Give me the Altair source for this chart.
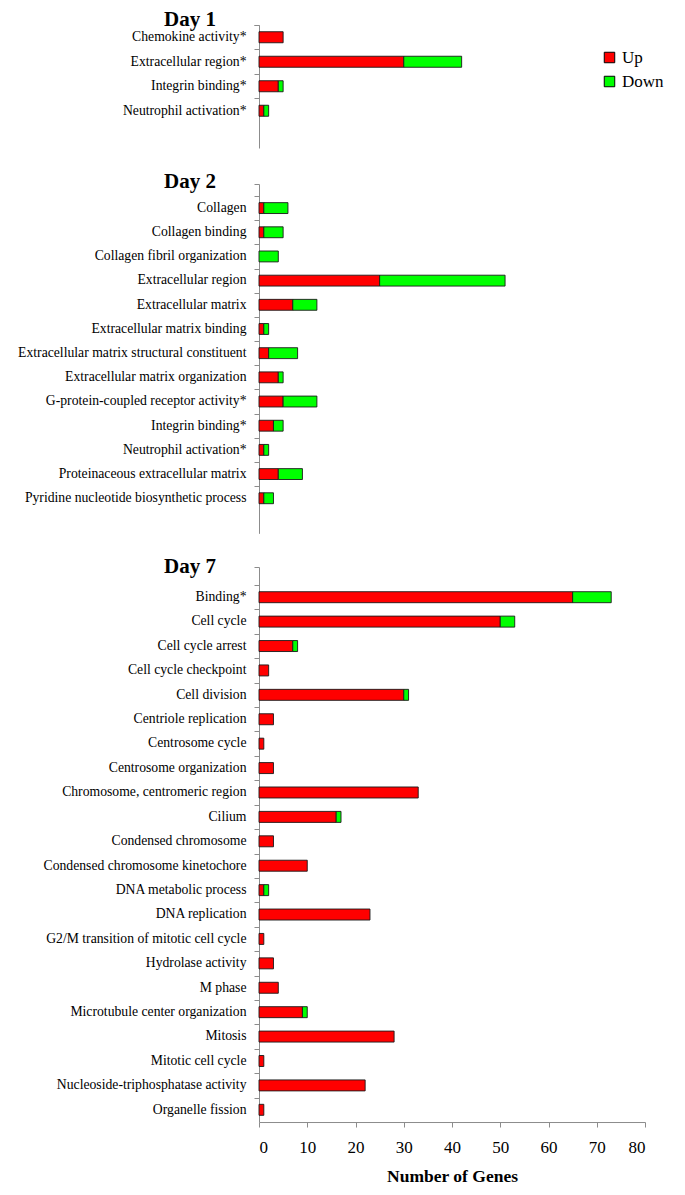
import altair as alt
import pandas as pd

# ---------------- data ----------------
day1_terms = ["Chemokine activity*", "Extracellular region*", "Integrin binding*",
              "Neutrophil activation*"]
day1_up = [5, 30, 4, 1]
day1_down = [0, 12, 1, 1]

day2_terms = ["Collagen", "Collagen binding", "Collagen fibril organization",
              "Extracellular region", "Extracellular matrix", "Extracellular matrix binding",
              "Extracellular matrix structural constituent", "Extracellular matrix organization",
              "G-protein-coupled receptor activity*", "Integrin binding*",
              "Neutrophil activation*", "Proteinaceous extracellular matrix",
              "Pyridine nucleotide biosynthetic process"]
day2_up = [1, 1, 0, 25, 7, 1, 2, 4, 5, 3, 1, 4, 1]
day2_down = [5, 4, 4, 26, 5, 1, 6, 1, 7, 2, 1, 5, 2]

day7_terms = ["Binding*", "Cell cycle", "Cell cycle arrest", "Cell cycle checkpoint",
              "Cell division", "Centriole replication", "Centrosome cycle",
              "Centrosome organization", "Chromosome, centromeric region", "Cilium",
              "Condensed chromosome", "Condensed chromosome kinetochore",
              "DNA metabolic process", "DNA replication",
              "G2/M transition of mitotic cell cycle", "Hydrolase activity", "M phase",
              "Microtubule center organization", "Mitosis", "Mitotic cell cycle",
              "Nucleoside-triphosphatase activity", "Organelle fission"]
day7_up = [65, 50, 7, 2, 30, 3, 1, 3, 33, 16, 3, 10, 1, 23, 1, 3, 4, 9, 28, 1, 22, 1]
day7_down = [8, 3, 1, 0, 1, 0, 0, 0, 0, 1, 0, 0, 1, 0, 0, 0, 0, 1, 0, 0, 0, 0]

directions = ["Up", "Down"]
colors = ["#FF0000", "#00FF00"]

FONT = "Liberation Serif"
W = 386
PI = 0.55
AXIS_GRAY = "#8c8c8c"


def make_df(terms, up, down):
    rows = []
    for t, u, d in zip(terms, up, down):
        if u > 0:
            rows.append({"term": t, "direction": "Up", "ord": 0, "value": u})
        if d > 0:
            rows.append({"term": t, "direction": "Down", "ord": 1, "value": d})
    return pd.DataFrame(rows)


def geometry(n, step, s_t, s_b):
    H = s_t + n * step + s_b
    po = min(1.0, (s_t + s_b + PI * step) / (2 * step))
    align = (s_t + PI * step / 2) / (s_t + s_b + PI * step)
    return H, po, align, step


def panel(terms, up, down, title, step, s_t, s_b, t_off, show_x):
    H, po, al, st = geometry(len(terms), step, s_t, s_b)
    if show_x:
        xaxis = alt.Axis(values=list(range(0, 81, 10)), title="Number of Genes",
                         grid=False, domainColor=AXIS_GRAY, tickColor=AXIS_GRAY,
                         tickSize=5, labelFont=FONT, labelFontSize=17, labelColor="black",
                         labelPadding=12, titleFont=FONT, titleFontSize=17.5,
                         titleFontWeight="bold", titleColor="black", titlePadding=12)
    else:
        xaxis = None
    return alt.Chart(make_df(terms, up, down)).mark_bar(
        stroke="#1a1a1a", strokeWidth=0.9
    ).encode(
        x=alt.X("value:Q", stack="zero", scale=alt.Scale(domain=[0, 80], nice=False),
                axis=xaxis),
        y=alt.Y("term:N", sort=None,
                scale=alt.Scale(domain=terms, paddingInner=PI, paddingOuter=po, align=al),
                axis=alt.Axis(title=None, ticks=True, bandPosition=0, tickExtra=True,
                              tickOffset=-PI * st / 2, tickWidth=1, tickOpacity=1,
                              domainColor=AXIS_GRAY, tickColor=AXIS_GRAY, tickSize=5,
                              labelFont=FONT, labelFontSize=13.7, labelColor="black",
                              labelPadding=8, labelLimit=400, labelOffset=6)),
        color=alt.Color("direction:N",
                        scale=alt.Scale(domain=directions, range=colors),
                        legend=alt.Legend(title=None, orient="none", legendX=342,
                                          legendY=24, symbolType="square",
                                          symbolSize=110, symbolStrokeColor="black",
                                          symbolStrokeWidth=1, labelFont=FONT,
                                          labelFontSize=17, labelColor="black",
                                          rowPadding=6, labelOffset=4)),
        order=alt.Order("ord:Q"),
    ).properties(
        width=W, height=H,
        title=alt.TitleParams(title, anchor="start", frame="group", dx=-95,
                              font=FONT, fontSize=21, fontWeight="bold", color="black",
                              baseline="alphabetic", offset=t_off),
    )


p1 = panel(day1_terms, day1_up, day1_down, "Day 1", 24.5, 0, 25, -28.5, False)
p2 = panel(day2_terms, day2_up, day2_down, "Day 2", 24.18, 12, 23, -31.5, False)
p7 = panel(day7_terms, day7_up, day7_down, "Day 7", 24.41, 18, 0, -34, True)

chart = alt.vconcat(p1, p2, p7, spacing=22).properties(
    padding={"left": 9, "top": 0, "right": 0, "bottom": 0},
    background="white",
).configure_view(stroke=None)

chart.save("out.html", embed_options={"renderer": "svg", "actions": False})
